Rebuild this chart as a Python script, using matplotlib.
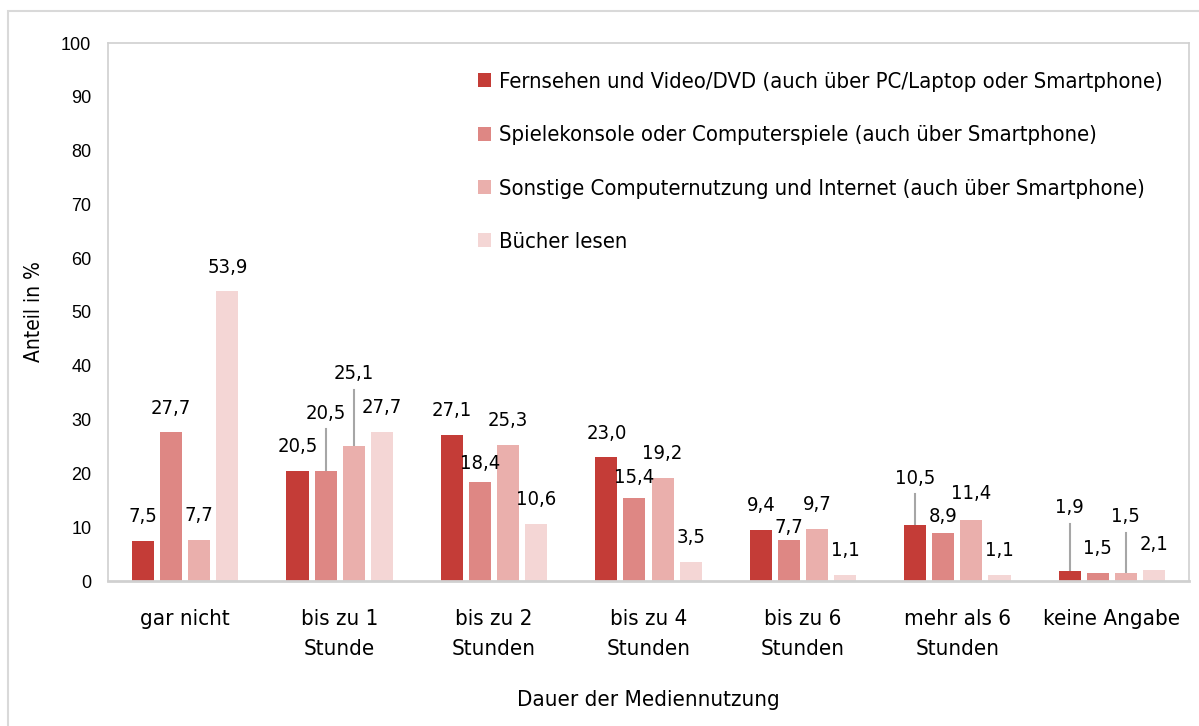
import matplotlib
matplotlib.use("Agg")
import matplotlib.pyplot as plt
from matplotlib import font_manager
from matplotlib.patches import Patch, Rectangle
import numpy as np

# ── Data ──────────────────────────────────────────────────────────────────────
categories = ["gar nicht", "bis zu 1\nStunde", "bis zu 2\nStunden", "bis zu 4\nStunden",
              "bis zu 6\nStunden", "mehr als 6\nStunden", "keine Angabe"]
series_names = [
    "Fernsehen und Video/DVD (auch über PC/Laptop oder Smartphone)",
    "Spielekonsole oder Computerspiele (auch über Smartphone)",
    "Sonstige Computernutzung und Internet (auch über Smartphone)",
    "Bücher lesen",
]
fernsehen = [7.5, 20.5, 27.1, 23.0, 9.4, 10.5, 1.9]
spiele    = [27.7, 20.5, 18.4, 15.4, 7.7, 8.9, 1.5]
internet  = [7.7, 25.1, 25.3, 19.2, 9.7, 11.4, 1.5]
buecher   = [53.9, 27.7, 10.6, 3.5, 1.1, 1.1, 2.1]
series = [fernsehen, spiele, internet, buecher]

colors = ["#c43c37", "#de8784", "#eaafac", "#f4d6d5"]

# label offset above bar top (in % units), one row per category
label_off = [
    [4.4, 4.4, 4.4, 4.4],
    [4.5, 10.7, 13.4, 4.5],
    [4.6, 3.5, 4.5, 4.5],
    [4.5, 3.9, 4.5, 4.5],
    [4.6, 2.2, 4.5, 4.6],
    [8.6, 3.0, 4.8, 4.6],
    [11.7, 4.6, 10.4, 4.6],
]

cond = [f for f in font_manager.fontManager.ttflist
        if f.name == "DejaVu Sans" and f.stretch == "condensed" and f.weight in (400, "normal")
        and f.style == "normal"]
if cond:
    plt.rcParams["font.family"] = ["DejaVu Sans"]
    plt.rcParams["font.stretch"] = "condensed"
else:
    plt.rcParams["font.family"] = ["Liberation Sans", "DejaVu Sans"]

W, H = 1199, 726
fig = plt.figure(figsize=(W / 100, H / 100), dpi=100)
ax = fig.add_axes([108 / W, (H - 581) / H, (1189 - 108) / W, (581 - 43) / H])

x = np.arange(len(categories))
pitch = 28 / 154
bw = 22 / 154

for i, (vals, col) in enumerate(zip(series, colors)):
    xs = x + (i - 1.5) * pitch
    ax.bar(xs, vals, width=bw, color=col, zorder=2)
    for j, v in enumerate(vals):
        off = label_off[j][i]
        ly = v + off
        ax.text(xs[j], ly, f"{v:.1f}".replace(".", ","), ha="center", va="center",
                fontsize=14.5, color="black", zorder=3)
        if off > 8:
            ax.plot([xs[j], xs[j]], [v, ly - 3.0], color="#a6a6a6", lw=1.5, zorder=1)

ax.set_xlim(-0.5, len(categories) - 0.5)
ax.set_ylim(0, 100)
ax.set_yticks(range(0, 101, 10))
ax.set_xticks(x)
ax.set_xticklabels(categories, fontsize=16, linespacing=1.65)
ax.tick_params(axis="both", length=0, colors="black")
ax.tick_params(axis="y", labelsize=13, pad=12)
ax.tick_params(axis="x", pad=20)
for lab in ax.get_yticklabels():
    lab.set_family(["Liberation Sans", "DejaVu Sans"])
    lab.set_stretch("normal")

for side in ["left", "right", "top", "bottom"]:
    ax.spines[side].set_color("#d0d0d0")
    ax.spines[side].set_linewidth(1.2)
ax.spines["bottom"].set_linewidth(2)

ax.set_ylabel("Anteil in %", fontsize=15, labelpad=12)
ax.set_xlabel("Dauer der Mediennutzung", fontsize=16, labelpad=22)

handles = [Patch(facecolor=c) for c in colors]
ax.legend(handles, series_names, loc="upper left", bbox_to_anchor=(478 / W, 1 - 72 / H),
          bbox_transform=fig.transFigure, frameon=False, fontsize=15.8,
          handlelength=0.6, handleheight=0.6, handletextpad=0.35, labelspacing=1.52,
          borderpad=0, borderaxespad=0)

fig.patches.append(Rectangle((8 / W, -0.1), 1.2, 1.1 - 11 / H, transform=fig.transFigure,
                             fill=False, edgecolor="#d9d9d9", linewidth=1.5))

fig.savefig("out.png", dpi=100)
